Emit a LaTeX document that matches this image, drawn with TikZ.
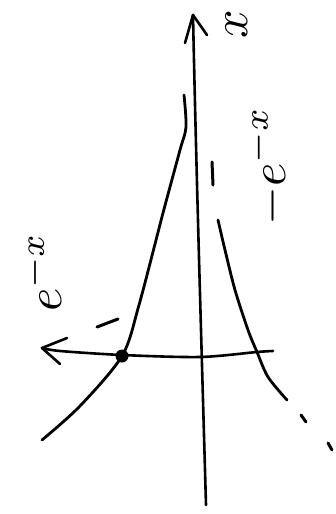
\documentclass[tikz,border=0pt]{standalone}
\usetikzlibrary{arrows.meta}
\begin{document}
\begin{tikzpicture}[x=1pt,y=-1pt,
    axis/.style={line width=2.6pt, line cap=round, line join=round},
    curve/.style={line width=2.8pt, line cap=round, line join=round},
    dashmark/.style={line width=3pt, line cap=round},
    lbl/.style={rotate=90, inner sep=0pt}
]
    \useasboundingbox (0,0) rectangle (335,514);

    % Axes
    \coordinate (vbot) at (206,505);
    \coordinate (vtop) at (193,15);
    \coordinate (hright) at (273,351);
    \coordinate (hleft) at (42,348);
    \draw[axis] (vbot) .. controls (201,330) and (196,160) .. (vtop);
    \draw[axis] (185,43) -- (vtop) -- (207,35);
    \draw[axis] plot[smooth] coordinates {(hright) (257,352) (200,357) (122,355) (60,351) (hleft)};
    \draw[axis] (67,338) -- (hleft) -- (60,364);

    % Curves
    \draw[curve] plot[smooth] coordinates {(42,440) (80,406) (122,356) (139,305) (163,213) (180,150) (186,127) (184,95)};
    \draw[curve] plot[smooth] coordinates {(218,220) (225,250) (235,290) (248,330) (257,352) (268,377) (287,400)};

    % Dashed continuation and marks
    \draw[dashmark] (212,162) -- (213,185);
    \draw[dashmark] (301,415) -- (306,422);
    \draw[dashmark] (328,443) -- (332,450);
    \draw[dashmark] (97,327) -- (118,319);

    \node[circle, fill, inner sep=0pt, minimum size=13pt] (cross) at (122,356) {};

    % Labels
    \node[lbl] (xlbl) at (237,24) {\scalebox{5}{$x$}};
    \node[lbl] (leftlbl) at (42,272) {\scalebox{5}{$e^{-x}$}};
    \node[lbl] (rightlbl) at (268,166) {\scalebox{5}{$-e^{-x}$}};
\end{tikzpicture}
\end{document}
